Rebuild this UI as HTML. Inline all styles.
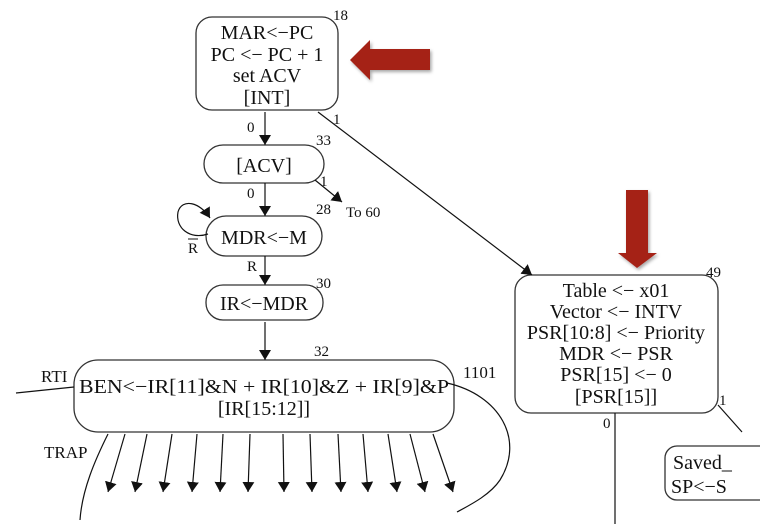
<!DOCTYPE html>
<html><head><meta charset="utf-8"><style>
html,body{margin:0;padding:0;background:#fff;width:760px;height:524px;overflow:hidden}
svg{display:block}
</style></head><body>
<svg width="760" height="524" viewBox="0 0 760 524" font-family="'Liberation Serif','Times New Roman',serif">
<defs>
<marker id="ah" markerWidth="10" markerHeight="16" refX="10" refY="6" orient="auto" markerUnits="userSpaceOnUse">
<path d="M0,0 L10,6 L0,12 z" fill="#111"/></marker>
<filter id="sh"><feDropShadow dx="1.5" dy="2" stdDeviation="1.5" flood-color="#000" flood-opacity="0.35"/></filter>
</defs>
<g fill="none" stroke="#333" stroke-width="1.3">
<rect x="196" y="17" width="142" height="93" rx="16"/>
<rect x="204" y="145" width="120" height="38" rx="19"/>
<rect x="206" y="216" width="116" height="40" rx="20"/>
<rect x="206" y="285" width="117" height="35" rx="17"/>
<rect x="74" y="360" width="380" height="72" rx="24"/>
<rect x="515" y="275" width="203" height="138" rx="16"/>
<rect x="665" y="446" width="110" height="54" rx="12"/>
</g>
<g stroke="#111" stroke-width="1.2" fill="none">
<line x1="265" y1="112" x2="265" y2="145" marker-end="url(#ah)"/>
<line x1="265" y1="183" x2="265" y2="216" marker-end="url(#ah)"/>
<line x1="315" y1="180" x2="342" y2="202" marker-end="url(#ah)"/>
<line x1="265" y1="256" x2="265" y2="285" marker-end="url(#ah)"/>
<line x1="265" y1="322" x2="265" y2="360" marker-end="url(#ah)"/>
<path d="M208,234 C190,240 175,228 178,212 C182,198 200,202 210,218" marker-end="url(#ah)"/>
<line x1="318" y1="112" x2="532" y2="275" marker-end="url(#ah)"/>
<line x1="16" y1="393" x2="74" y2="387"/>
<path d="M108,434 C95,460 82,490 80,520"/>
<path d="M447,383 C500,395 525,440 500,480 C490,495 470,505 457,512"/>
<line x1="615" y1="413" x2="615" y2="524"/>
<line x1="718" y1="405" x2="742" y2="432"/>
<line x1="125" y1="434" x2="108" y2="492" marker-end="url(#ah)"/>
<line x1="147" y1="434" x2="135" y2="492" marker-end="url(#ah)"/>
<line x1="172" y1="434" x2="163" y2="492" marker-end="url(#ah)"/>
<line x1="197" y1="434" x2="192" y2="492" marker-end="url(#ah)"/>
<line x1="223" y1="434" x2="220" y2="492" marker-end="url(#ah)"/>
<line x1="250" y1="434" x2="248" y2="492" marker-end="url(#ah)"/>
<line x1="283" y1="434" x2="284" y2="492" marker-end="url(#ah)"/>
<line x1="310" y1="434" x2="312" y2="492" marker-end="url(#ah)"/>
<line x1="338" y1="434" x2="341" y2="492" marker-end="url(#ah)"/>
<line x1="363" y1="434" x2="368" y2="492" marker-end="url(#ah)"/>
<line x1="388" y1="434" x2="397" y2="492" marker-end="url(#ah)"/>
<line x1="410" y1="434" x2="425" y2="492" marker-end="url(#ah)"/>
<line x1="433" y1="434" x2="453" y2="492" marker-end="url(#ah)"/>
</g>
<g font-size="20" text-anchor="middle" fill="#111">
<text x="267" y="39">MAR&lt;−PC</text>
<text x="267" y="61">PC &lt;− PC + 1</text>
<text x="267" y="82">set ACV</text>
<text x="267" y="104">[INT]</text>
<text x="264" y="172">[ACV]</text>
<text x="264" y="244">MDR&lt;−M</text>
<text x="264" y="310">IR&lt;−MDR</text>
<text x="264" y="393" textLength="370" lengthAdjust="spacingAndGlyphs">BEN&lt;−IR[11]&amp;N + IR[10]&amp;Z + IR[9]&amp;P</text>
<text x="264" y="415">[IR[15:12]]</text>
<text x="616" y="297">Table &lt;− x01</text>
<text x="616" y="318">Vector &lt;− INTV</text>
<text x="616" y="339">PSR[10:8] &lt;− Priority</text>
<text x="616" y="360">MDR &lt;− PSR</text>
<text x="616" y="381">PSR[15] &lt;− 0</text>
<text x="616" y="403">[PSR[15]]</text>
</g>
<g font-size="20" fill="#111">
<text x="673" y="469">Saved_</text>
<text x="671" y="493">SP&lt;−S</text>
</g>
<g font-size="15" fill="#111">
<text x="333" y="20">18</text>
<text x="316" y="145">33</text>
<text x="316" y="214">28</text>
<text x="316" y="288">30</text>
<text x="314" y="356">32</text>
<text x="463" y="378" font-size="17">1101</text>
<text x="706" y="277">49</text>
<text x="247" y="132">0</text>
<text x="333" y="124">1</text>
<text x="247" y="198">0</text>
<text x="320" y="186">1</text>
<text x="346" y="217">To 60</text>
<text x="188" y="253">R</text>
<text x="247" y="271">R</text>
<text x="41" y="382" font-size="17">RTI</text>
<text x="44" y="458" font-size="17">TRAP</text>
<text x="603" y="428">0</text>
<text x="719" y="405">1</text>
</g>
<line x1="188" y1="239" x2="198" y2="239" stroke="#111" stroke-width="1"/>
<g fill="#a52019" filter="url(#sh)">
<path d="M350,60 L370,40 L370,49 L430,49 L430,70 L370,70 L370,80 z"/>
<path d="M626,190 L648,190 L648,253 L657,253 L637,268 L618,253 L626,253 z"/>
</g>
</svg>
</body></html>
